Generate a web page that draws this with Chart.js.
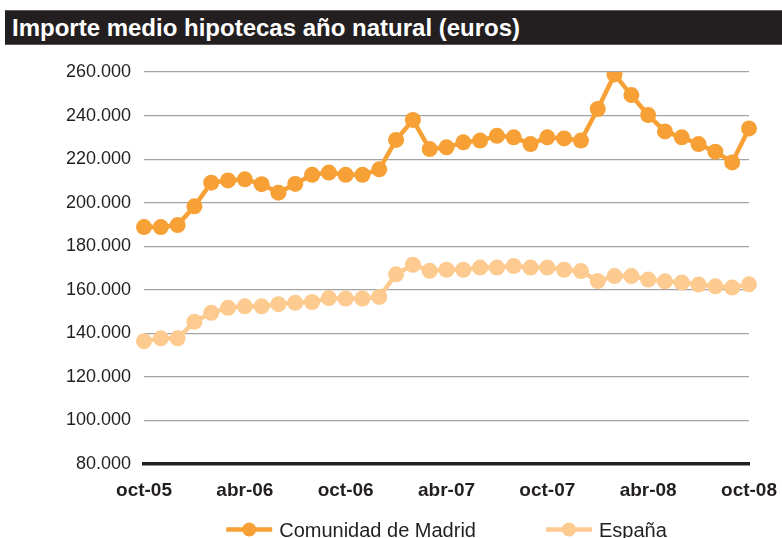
<!DOCTYPE html>
<html>
<head>
<meta charset="utf-8">
<script src="https://cdn.jsdelivr.net/npm/chart.js@4/dist/chart.umd.min.js"></script>
<style>
  html, body { margin: 0; padding: 0; background: #fff; }
  #wrap { position: relative; width: 782px; height: 538px; overflow: hidden; }
  #title {
    position: absolute; left: 5px; top: 10px; width: 777px; height: 33px;
    background: #231f20; border-top: 1px solid #5a5758; border-bottom: 1px solid #5a5758;
    color: #fff; font: bold 24px "Liberation Sans", Arial, sans-serif;
    line-height: 33px; padding-left: 7px; box-sizing: content-box; white-space: nowrap;
  }
  canvas { position: absolute; left: 0; top: 0; }
</style>
</head>
<body>
<div id="wrap">
  <canvas id="c" width="782" height="538"></canvas>
  <div id="title">Importe medio hipotecas año natural (euros)</div>
</div>
<script>
// Categories: monthly, oct-05 .. oct-08
const months = [
  'oct-05','nov-05','dic-05','ene-06','feb-06','mar-06','abr-06','may-06','jun-06','jul-06','ago-06','sep-06',
  'oct-06','nov-06','dic-06','ene-07','feb-07','mar-07','abr-07','may-07','jun-07','jul-07','ago-07','sep-07',
  'oct-07','nov-07','dic-07','ene-08','feb-08','mar-08','abr-08','may-08','jun-08','jul-08','ago-08','sep-08',
  'oct-08'
];
// Tick labels shown on the x axis
const shownXLabels = ['oct-05','abr-06','oct-06','abr-07','oct-07','abr-08','oct-08'];

// Series values (euros)
const madrid = [
  188800, 188800, 189700, 198300, 209200, 210200, 210700, 208500, 204600, 208600, 212800, 213800,
  212800, 212800, 215300, 228800, 238000, 224600, 225400, 227700, 228500, 230700, 230000, 226900,
  230000, 229500, 228500, 243000, 258900, 249400, 240200, 232700, 230000, 226900, 223400, 218500,
  234100
];
const espana = [
  136400, 137700, 137700, 145300, 149400, 151700, 152400, 152400, 153400, 154000, 154400, 156200,
  156000, 156000, 156700, 167100, 171500, 168700, 169200, 169200, 170200, 170200, 170900, 170200,
  170200, 169200, 168600, 164000, 166300, 166300, 164700, 163900, 163300, 162400, 161600, 161000,
  162500
];
const seriesNames = ['Comunidad de Madrid', 'España'];
const seriesColors = ['#f7a035', '#fdca8f'];

const fmt = v => String(v).replace(/\B(?=(\d{3})+(?!\d))/g, '.');
const FONT = '"Liberation Sans", Arial, sans-serif';

const legendPlugin = {
  id: 'customLegend',
  afterDraw(chart) {
    const ctx = chart.ctx;
    const ca = chart.chartArea;
    const ds = chart.data.datasets;
    ctx.save();
    ctx.font = '20px ' + FONT;
    const markerW = 46, gapText = 7, gapItems = 70;
    const widths = ds.map(d => markerW + gapText + ctx.measureText(d.label).width);
    const total = widths.reduce((a, b) => a + b, 0) + gapItems * (ds.length - 1);
    let x = (ca.left + ca.right) / 2 - total / 2;
    const cy = 529.5;
    ds.forEach((d, i) => {
      ctx.strokeStyle = d.borderColor;
      ctx.lineWidth = 4.5;
      ctx.beginPath();
      ctx.moveTo(x, cy);
      ctx.lineTo(x + markerW, cy);
      ctx.stroke();
      ctx.fillStyle = d.borderColor;
      ctx.beginPath();
      ctx.arc(x + markerW / 2, cy, 7, 0, Math.PI * 2);
      ctx.fill();
      ctx.fillStyle = '#231f20';
      ctx.textBaseline = 'alphabetic';
      ctx.textAlign = 'left';
      ctx.fillText(d.label, x + markerW + gapText, 537);
      x += widths[i] + gapItems;
    });
    ctx.restore();
  }
};

new Chart(document.getElementById('c'), {
  type: 'line',
  data: {
    labels: months,
    datasets: [
      { label: seriesNames[0], data: madrid, borderColor: seriesColors[0], backgroundColor: seriesColors[0],
        pointBackgroundColor: seriesColors[0], borderWidth: 4.5, pointRadius: 8, pointBorderWidth: 0, tension: 0 },
      { label: seriesNames[1], data: espana, borderColor: seriesColors[1], backgroundColor: seriesColors[1],
        pointBackgroundColor: seriesColors[1], borderWidth: 4.5, pointRadius: 8, pointBorderWidth: 0, tension: 0 }
    ]
  },
  options: {
    responsive: false,
    animation: false,
    devicePixelRatio: 1,
    layout: { padding: { left: 0, right: 33, top: 72, bottom: 0 } },
    plugins: { legend: { display: false }, title: { display: false }, tooltip: { enabled: false } },
    scales: {
      x: {
        offset: false,
        grid: { display: false, drawTicks: false },
        border: { display: true, color: '#231f20', width: 3.5 },
        ticks: {
          autoSkip: false, maxRotation: 0, padding: 15, color: '#231f20',
          font: { family: FONT, size: 19, weight: 'bold' },
          callback: function (v, i) { const l = this.getLabelForValue(v); return shownXLabels.includes(l) ? l : null; }
        },
        afterFit: s => { s.height = 74; s.paddingLeft = 0; s.paddingRight = 0; }
      },
      y: {
        min: 80000, max: 260000,
        grid: { color: c => c.tick && c.tick.value === 80000 ? 'rgba(0,0,0,0)' : '#a3a3a3', lineWidth: 1.2, drawTicks: false },
        border: { display: false },
        ticks: {
          stepSize: 20000, padding: 13, color: '#231f20',
          font: { family: FONT, size: 18 },
          callback: v => fmt(v)
        },
        afterFit: s => { s.width = 144; }
      }
    }
  },
  plugins: [legendPlugin]
});
</script>
</body>
</html>
